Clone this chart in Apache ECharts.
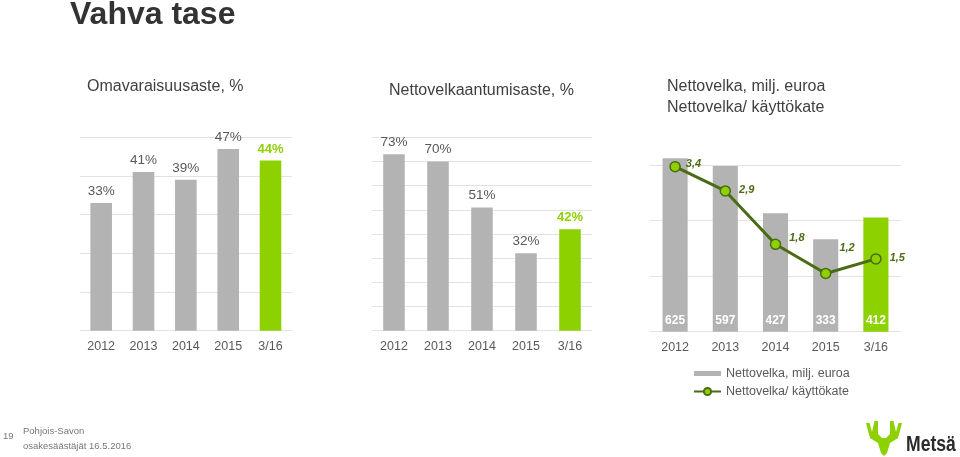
<!DOCTYPE html>
<html><head><meta charset="utf-8">
<script src="https://cdn.jsdelivr.net/npm/echarts@6/dist/echarts.min.js"></script>
<style>html,body{margin:0;padding:0;background:#fff}#c{width:960px;height:457px}</style>
</head><body><div id="c"></div>
<script>
const categories = ['2012', '2013', '2014', '2015', '3/16'];
const equityRatio = [33, 41, 39, 47, 44];          // Omavaraisuusaste, %
const gearing = [73, 70, 51, 32, 42];              // Nettovelkaantumisaste, %
const netDebt = [625, 597, 427, 333, 412];         // Nettovelka, milj. euroa
const netDebtToEbitda = [3.4, 2.9, 1.8, 1.2, 1.5]; // Nettovelka/ käyttökate

const GRAY = '#b3b3b3', GREEN = '#8dd100', DARKGREEN = '#4b6b14', TXT = '#595959', GRID = '#e2e2e2';
const FONT = "'Liberation Sans', Arial, sans-serif";
const HL = categories.length - 1;
const lineLabelOffsets = [[-3, -3], [0, -1], [0, -6], [0, -25], [0, -1]];

function pctBars(vals) {
  return vals.map((v, i) => i === HL
    ? { value: v, itemStyle: { color: GREEN }, label: { color: GREEN, fontWeight: 'bold', fontSize: 13 } }
    : v);
}
function xAx(g) {
  return { type: 'category', gridIndex: g, data: categories, axisLine: { show: false }, axisTick: { show: false },
    axisLabel: { color: TXT, fontSize: 12.5, fontFamily: FONT, margin: 9.5 } };
}
function yAx(g, max, interval, lineColor) {
  return { type: 'value', gridIndex: g, min: 0, max: max, interval: interval, axisLabel: { show: false },
    axisLine: { show: false }, axisTick: { show: false },
    splitLine: { show: true, lineStyle: { color: lineColor || GRID, width: 1 } } };
}

const chart = echarts.init(document.getElementById('c'), null, { renderer: 'canvas' });
chart.setOption({
  animation: false,
  backgroundColor: '#fff',
  textStyle: { fontFamily: FONT },
  grid: [
    { left: 80, width: 211.7, top: 137.3, height: 193.4 },
    { left: 372, width: 220, top: 137.3, height: 193.4 },
    { left: 650, width: 251, top: 137.5, height: 194.2 }
  ],
  xAxis: [xAx(0), xAx(1), xAx(2)],
  yAxis: [
    yAx(0, 50, 10),
    yAx(1, 80, 10),
    yAx(2, 700, 100, [GRID, 'rgba(0,0,0,0)']),
    { type: 'value', gridIndex: 2, min: 0, max: 4, show: false, splitLine: { show: false } }
  ],
  legend: {
    orient: 'vertical', left: 688, top: 362, itemWidth: 27, itemHeight: 9, itemGap: 5,
    textStyle: { color: TXT, fontSize: 12.5, fontFamily: FONT },
    data: [
      { name: 'Nettovelka, milj. euroa', icon: 'path://M0,0H27V5H0Z' },
      { name: 'Nettovelka/ käyttökate' }
    ]
  },
  series: [
    { type: 'bar', name: 'Omavaraisuusaste, %', xAxisIndex: 0, yAxisIndex: 0, barWidth: '51%',
      itemStyle: { color: GRAY }, data: pctBars(equityRatio),
      label: { show: true, position: 'top', distance: 5, color: TXT, fontSize: 13.5, fontFamily: FONT, formatter: '{c}%' } },
    { type: 'bar', name: 'Nettovelkaantumisaste, %', xAxisIndex: 1, yAxisIndex: 1, barWidth: '49%',
      itemStyle: { color: GRAY }, data: pctBars(gearing),
      label: { show: true, position: 'top', distance: 5, color: TXT, fontSize: 13.5, fontFamily: FONT, formatter: '{c}%' } },
    { type: 'bar', name: 'Nettovelka, milj. euroa', xAxisIndex: 2, yAxisIndex: 2, barWidth: '50%',
      itemStyle: { color: GRAY },
      data: netDebt.map((v, i) => i === HL ? { value: v, itemStyle: { color: GREEN } } : v),
      label: { show: true, position: 'insideBottom', distance: 5, color: '#fff', fontWeight: 'bold', fontSize: 12, fontFamily: FONT } },
    { type: 'line', name: 'Nettovelka/ käyttökate', xAxisIndex: 2, yAxisIndex: 3, z: 5,
      symbol: 'circle', symbolSize: 10,
      lineStyle: { color: DARKGREEN, width: 3 },
      itemStyle: { color: GREEN, borderColor: DARKGREEN, borderWidth: 1.5 },
      data: netDebtToEbitda.map((v, i) => ({ value: v, label: { offset: lineLabelOffsets[i] } })),
      label: { show: true, position: 'right', distance: 8, color: DARKGREEN, fontWeight: 'bold', fontStyle: 'italic',
        fontSize: 11, fontFamily: FONT, formatter: p => String(p.value).replace('.', ',') } }
  ],
  graphic: [
    { type: 'text', left: 70, top: -1, style: { text: 'Vahva tase', font: "bold 32px " + FONT, fill: '#333' } },
    { type: 'text', x: 87, y: 87, style: { text: 'Omavaraisuusaste, %', font: "16px " + FONT, fill: '#3f3f3f', verticalAlign: 'middle' } },
    { type: 'text', x: 389, y: 90.5, style: { text: 'Nettovelkaantumisaste, %', font: "16px " + FONT, fill: '#3f3f3f', verticalAlign: 'middle' } },
    { type: 'text', x: 667, y: 86.5, style: { text: 'Nettovelka, milj. euroa', font: "16px " + FONT, fill: '#3f3f3f', verticalAlign: 'middle' } },
    { type: 'text', x: 667, y: 107.5, style: { text: 'Nettovelka/ käyttökate', font: "16px " + FONT, fill: '#3f3f3f', verticalAlign: 'middle' } },
    { type: 'text', x: 3, y: 436, style: { text: '19', font: "9.5px " + FONT, fill: '#777', verticalAlign: 'middle' } },
    { type: 'text', x: 23, y: 431, style: { text: 'Pohjois-Savon', font: "9.5px " + FONT, fill: '#777', verticalAlign: 'middle' } },
    { type: 'text', x: 23, y: 446, style: { text: 'osakesäästäjät 16.5.2016', font: "9.5px " + FONT, fill: '#777', verticalAlign: 'middle' } },
    { type: 'polygon', shape: { points: [[866,423],[869.5,423],[872,432],[874.5,421],[878,421],[878,434],[882,438],[886,438],[890,434],[890,421],[893.5,421],[896,432],[898.5,423],[902,423],[898,438],[890,443],[887,453],[884,456],[881,453],[878,443],[870,438]] },
      style: { fill: '#8dd100' } },
    { type: 'text', x: 906, y: 445, scaleX: 0.8, originX: 0, style: { text: 'Metsä', font: "bold 22px " + FONT, fill: '#2b2b2b', verticalAlign: 'middle' } }
  ]
});
</script>
</body></html>
